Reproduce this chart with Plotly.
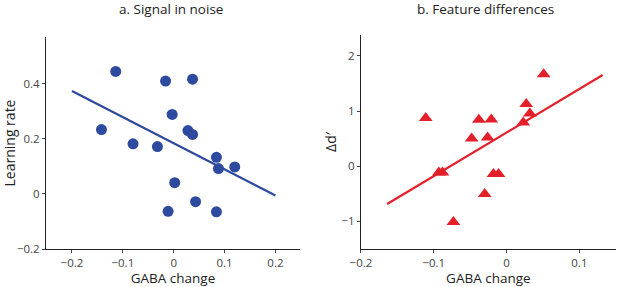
import plotly.graph_objects as go

# Panel a: Signal in noise
gaba_a = [-0.114, -0.016, 0.037, -0.003, -0.142, 0.028, 0.037, -0.080, -0.032,
          0.084, 0.088, 0.120, 0.002, 0.043, -0.011, 0.084]
learn_a = [0.445, 0.410, 0.417, 0.289, 0.234, 0.230, 0.216, 0.182, 0.172,
           0.133, 0.092, 0.098, 0.041, -0.028, -0.063, -0.065]
fit_x_a = [-0.2, 0.2]
fit_y_a = [0.374, -0.006]

# Panel b: Feature differences
gaba_b = [0.051, 0.027, 0.032, 0.023, -0.111, -0.038, -0.021, -0.048, -0.026,
          -0.093, -0.088, -0.018, -0.011, -0.030, -0.073]
dprime_b = [1.667, 1.127, 0.958, 0.794, 0.873, 0.842, 0.848, 0.503, 0.520,
            -0.115, -0.115, -0.140, -0.140, -0.503, -1.010]
fit_x_b = [-0.164, 0.132]
fit_y_b = [-0.685, 1.655]

x_ticks_a = [-0.2, -0.1, 0, 0.1, 0.2]
y_ticks_a = [-0.2, 0, 0.2, 0.4]
x_ticks_b = [-0.2, -0.1, 0, 0.1]
y_ticks_b = [-1, 0, 1, 2]

BLUE = "#2E4A9E"
RED = "#E3202A"
FONT = "Open Sans"

fig = go.Figure()
fig.add_trace(go.Scatter(x=fit_x_a, y=fit_y_a, mode="lines",
                         line=dict(color=BLUE, width=2.2), xaxis="x", yaxis="y",
                         showlegend=False, hoverinfo="skip"))
fig.add_trace(go.Scatter(x=gaba_a, y=learn_a, mode="markers",
                         marker=dict(color=BLUE, size=11, symbol="circle"),
                         xaxis="x", yaxis="y", showlegend=False))
fig.add_trace(go.Scatter(x=fit_x_b, y=fit_y_b, mode="lines",
                         line=dict(color=RED, width=2.2), xaxis="x2", yaxis="y2",
                         showlegend=False, hoverinfo="skip"))
fig.add_trace(go.Scatter(x=gaba_b, y=dprime_b, mode="markers",
                         marker=dict(color=RED, size=12, symbol="triangle-up"),
                         xaxis="x2", yaxis="y2", showlegend=False))

def fmt(v):
    if v == 0:
        return "0"
    s = ("%g" % abs(v))
    return ("\u2212" + s) if v < 0 else s

axis_common = dict(showgrid=False, zeroline=False, showline=True, linecolor="#222",
                   linewidth=1.2, ticks="outside", ticklen=3, tickcolor="#444",
                   automargin=False,
                   tickfont=dict(family=FONT, size=11.5, color="#444"))

fig.update_layout(
    width=617, height=287,
    margin=dict(l=0, r=0, t=0, b=0),
    paper_bgcolor="white", plot_bgcolor="white",
    font=dict(family=FONT, color="#222"),
    xaxis=dict(domain=[0.0746, 0.486], range=[-0.251, 0.248], anchor="y",
               tickvals=x_ticks_a, ticktext=[fmt(v) for v in x_ticks_a],
               title=dict(text="GABA change", font=dict(size=13.5, family=FONT), standoff=8),
               **axis_common),
    yaxis=dict(domain=[0.1324, 0.871], range=[-0.2, 0.57], anchor="x",
               tickvals=y_ticks_a, ticktext=[fmt(v) for v in y_ticks_a],
               title=dict(text="Learning rate", font=dict(size=14, family=FONT), standoff=6),
               **axis_common),
    xaxis2=dict(domain=[0.585, 0.998], range=[-0.2, 0.15], anchor="y2",
                tickvals=x_ticks_b, ticktext=[fmt(v) for v in x_ticks_b],
                title=dict(text="GABA change", font=dict(size=13.5, family=FONT), standoff=8),
                **axis_common),
    yaxis2=dict(domain=[0.1324, 0.878], range=[-1.5, 2.38], anchor="x2",
                tickvals=y_ticks_b, ticktext=[fmt(v) for v in y_ticks_b],
                title=dict(text="\u0394d\u2032", font=dict(size=14, family=FONT), standoff=1),
                **axis_common),
    annotations=[
        dict(text="a. Signal in noise", x=171/617, y=1 - 9/287, xref="paper", yref="paper",
             xanchor="center", yanchor="middle",
             showarrow=False, font=dict(size=13.5, family=FONT, color="#222")),
        dict(text="b. Feature differences", x=(307 + 178)/617, y=1 - 9/287, xref="paper",
             yref="paper", xanchor="center", yanchor="middle",
             showarrow=False, font=dict(size=13.5, family=FONT, color="#222")),
    ],
)

fig.write_html("out.html", config={"displayModeBar": False},
               post_script="document.body.style.margin='0';document.body.style.overflow='hidden';")
